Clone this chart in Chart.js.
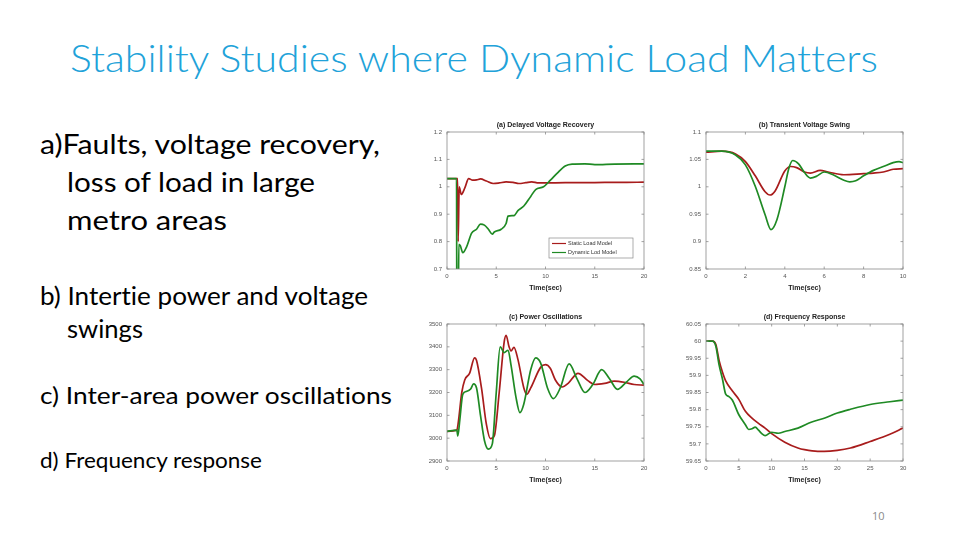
<!DOCTYPE html>
<html>
<head>
<meta charset="utf-8">
<script src="https://cdn.jsdelivr.net/npm/chart.js@4/dist/chart.umd.min.js"></script>
<style>
  html, body { margin: 0; padding: 0; background: #fff; }
  body { width: 960px; height: 540px; position: relative; overflow: hidden; font-family: Lato, "Open Sans", sans-serif; font-variant-ligatures: none; font-feature-settings: "liga" 0, "dlig" 0; }
  .txt { position: absolute; white-space: nowrap; color: #000; transform-origin: left top; line-height: 1; }
  .title { color: #21a2d9; font-weight: 300; font-size: 38px; }
  .box { position: absolute; }
  .pg { position: absolute; left: 872px; top: 508px; font-size: 11px; color: #8a8a8a; font-family: "Open Sans", sans-serif; }
</style>
</head>
<body>
<div class="txt title" style="left:70px; top:38px;" data-w="808">Stability Studies where Dynamic Load Matters</div>

<div class="txt" style="left:40px; top:131px; font-size:26px;" data-w="340">a)Faults, voltage recovery,</div>
<div class="txt" style="left:67px; top:169px; font-size:26px;" data-w="248">loss of load in large</div>
<div class="txt" style="left:67px; top:207px; font-size:26px;" data-w="160">metro areas</div>

<div class="txt" style="left:40px; top:283px; font-size:25px;" data-w="328">b) Intertie power and voltage</div>
<div class="txt" style="left:67px; top:316px; font-size:25px;" data-w="76">swings</div>

<div class="txt" style="left:40px; top:383px; font-size:24px;" data-w="352">c) Inter-area power oscillations</div>

<div class="txt" style="left:40px; top:449px; font-size:21px;" data-w="222">d) Frequency response</div>

<div class="pg">10</div>

<div class="box" style="left:412px; top:118px; width:245px; height:175px;"><canvas id="chartA"></canvas></div>
<div class="box" style="left:671px; top:118px; width:245px; height:175px;"><canvas id="chartB"></canvas></div>
<div class="box" style="left:412px; top:310px; width:245px; height:175px;"><canvas id="chartC"></canvas></div>
<div class="box" style="left:671px; top:310px; width:245px; height:175px;"><canvas id="chartD"></canvas></div>

<script>
// (a) Delayed Voltage Recovery
const timeA_static = [0, 1.08, 1.13, 1.24, 1.45, 1.8, 2.2, 2.6, 3.0, 3.4, 4.0, 4.7, 5.3, 6.0, 6.7, 7.3, 8.0, 8.6, 9.3, 10, 12, 14, 16, 18, 20];
const voltA_static = [1.03, 1.03, 0.8, 1.0, 0.972, 0.995, 1.03, 1.024, 1.025, 1.029, 1.021, 1.012, 1.014, 1.018, 1.016, 1.012, 1.015, 1.018, 1.014, 1.014, 1.015, 1.015, 1.016, 1.016, 1.017];
const timeA_dynamic = [0, 0.97, 1.0, 1.14, 1.2, 1.35, 1.6, 2.0, 2.5, 3.0, 3.4, 3.8, 4.2, 4.6, 4.8, 5.5, 6.0, 6.2, 6.8, 7.2, 7.8, 8.5, 9.0, 9.8, 10.5, 11.2, 12.0, 12.7, 14, 15, 17, 20];
const voltA_dynamic = [1.03, 1.03, 0.5, 0.5, 0.79, 0.785, 0.76, 0.782, 0.831, 0.845, 0.864, 0.86, 0.845, 0.827, 0.835, 0.845, 0.866, 0.893, 0.895, 0.913, 0.93, 0.965, 0.99, 1.0, 1.024, 1.05, 1.076, 1.083, 1.084, 1.081, 1.083, 1.084];
const ticksA_x = [0, 5, 10, 15, 20];
const ticksA_y = [0.7, 0.8, 0.9, 1, 1.1, 1.2];

// (b) Transient Voltage Swing
const timeB_static = [0, 0.8, 1.5, 2.0, 2.5, 3.0, 3.25, 3.5, 4.0, 4.3, 4.6, 5.0, 5.3, 5.8, 6.2, 7.0, 8.0, 8.5, 9.0, 9.5, 10];
const voltB_static = [1.063, 1.065, 1.06, 1.046, 1.02, 0.991, 0.985, 0.992, 1.029, 1.037, 1.035, 1.027, 1.025, 1.03, 1.027, 1.022, 1.024, 1.025, 1.027, 1.032, 1.033];
const timeB_dynamic = [0, 0.8, 1.5, 2.0, 2.5, 3.0, 3.3, 3.6, 4.0, 4.2, 4.4, 4.7, 5.0, 5.3, 5.6, 6.0, 6.5, 7.0, 7.3, 7.6, 8.0, 8.5, 9.0, 9.5, 9.8, 10];
const voltB_dynamic = [1.065, 1.065, 1.058, 1.04, 1.001, 0.949, 0.922, 0.94, 1.0, 1.033, 1.048, 1.042, 1.026, 1.016, 1.019, 1.027, 1.021, 1.012, 1.009, 1.011, 1.02, 1.03, 1.037, 1.044, 1.046, 1.044];
const ticksB_x = [0, 2, 4, 6, 8, 10];
const ticksB_y = [0.85, 0.9, 0.95, 1, 1.05, 1.1];

// (c) Power Oscillations
const timeC_static = [0, 1.0, 1.15, 1.5, 1.8, 2.3, 2.8, 3.0, 3.5, 4.0, 4.4, 4.8, 5.3, 5.8, 6.0, 6.3, 6.5, 6.8, 7.2, 7.8, 8.1, 8.5, 9.5, 10, 10.5, 11, 11.7, 12.3, 13.3, 14.3, 15, 16, 17, 18, 19, 20];
const powerC_static = [3030, 3035, 3070, 3200, 3255, 3285, 3352, 3340, 3220, 3060, 2998, 3010, 3200, 3420, 3450, 3400, 3382, 3398, 3345, 3220, 3192, 3220, 3310, 3322, 3305, 3255, 3224, 3240, 3284, 3252, 3235, 3240, 3250, 3245, 3235, 3232];
const timeC_dynamic = [0, 1.0, 1.1, 1.3, 1.6, 2.0, 2.4, 2.7, 3.0, 3.4, 3.8, 4.2, 4.6, 5.0, 5.4, 5.8, 6.2, 6.5, 7.0, 7.4, 7.8, 8.5, 9.0, 9.5, 10.2, 10.8, 11.5, 12.4, 13.2, 14.0, 14.8, 15.7, 16.5, 17.3, 18.2, 19.0, 19.6, 20];
const powerC_dynamic = [3030, 3035, 3010, 3080, 3192, 3205, 3215, 3238, 3220, 3100, 2990, 2952, 2975, 3200, 3400, 3375, 3385, 3320, 3180, 3112, 3150, 3300, 3352, 3330, 3220, 3173, 3220, 3325, 3260, 3200, 3235, 3300, 3260, 3214, 3245, 3272, 3260, 3235];
const ticksC_x = [0, 5, 10, 15, 20];
const ticksC_y = [2900, 3000, 3100, 3200, 3300, 3400, 3500];

// (d) Frequency Response
const timeD_static = [0, 1.0, 1.5, 2.0, 2.5, 3.0, 4.0, 5.0, 6.0, 7.0, 8.0, 9.0, 10, 12, 14, 15, 17, 18, 20, 22, 25, 28, 30];
const freqD_static = [60.0, 60.0, 59.99, 59.943, 59.91, 59.884, 59.855, 59.83, 59.795, 59.775, 59.76, 59.746, 59.73, 59.705, 59.688, 59.683, 59.678, 59.678, 59.681, 59.688, 59.707, 59.728, 59.746];
const timeD_dynamic = [0, 1.0, 1.5, 2.0, 2.5, 3.0, 3.5, 4.0, 5.0, 6.0, 6.5, 7.0, 7.5, 8.0, 8.5, 9.0, 10, 11, 12, 14, 16, 18, 20, 22, 25, 28, 30];
const freqD_dynamic = [60.0, 60.0, 59.985, 59.93, 59.89, 59.845, 59.838, 59.828, 59.785, 59.756, 59.742, 59.744, 59.749, 59.74, 59.73, 59.724, 59.734, 59.731, 59.736, 59.746, 59.763, 59.775, 59.79, 59.801, 59.815, 59.823, 59.828];
const ticksD_x = [0, 5, 10, 15, 20, 25, 30];
const ticksD_y = [59.65, 59.7, 59.75, 59.8, 59.85, 59.9, 59.95, 60, 60.05];

const seriesNames = ['Static Load Model', 'Dynamic Lod Model'];
const RED = '#a81c1c';
const GREEN = '#1f8a24';

// stretch the slide text to the widths in the picture
document.querySelectorAll('.txt[data-w]').forEach(el => {
    el.style.display = 'inline-block';
    const w = el.getBoundingClientRect().width;
    el.style.transform = 'scaleX(' + (el.dataset.w / w) + ')';
});

const toPoints = (xs, ys) => xs.map((x, i) => ({ x: x, y: ys[i] }));

// MATLAB-like box with inward ticks
const framePlugin = {
    id: 'frame',
    afterDraw(chart) {
        const { ctx, chartArea: a, scales } = chart;
        ctx.save();
        ctx.strokeStyle = '#8a8a8a';
        ctx.lineWidth = 0.8;
        ctx.strokeRect(a.left, a.top, a.right - a.left, a.bottom - a.top);
        ctx.beginPath();
        scales.x.ticks.forEach(t => {
            const px = scales.x.getPixelForValue(t.value);
            ctx.moveTo(px, a.bottom); ctx.lineTo(px, a.bottom - 2.5);
            ctx.moveTo(px, a.top); ctx.lineTo(px, a.top + 2.5);
        });
        scales.y.ticks.forEach(t => {
            const py = scales.y.getPixelForValue(t.value);
            ctx.moveTo(a.left, py); ctx.lineTo(a.left + 2.5, py);
            ctx.moveTo(a.right, py); ctx.lineTo(a.right - 2.5, py);
        });
        ctx.stroke();
        ctx.restore();
    }
};

// legend box inside the plot, lower right
const boxLegendPlugin = {
    id: 'boxLegend',
    afterDraw(chart, args, opts) {
        if (!opts.show) return;
        const { ctx, chartArea: a } = chart;
        const w = 84, h = 20;
        const x0 = a.right - 11 - w, y0 = a.bottom - 11 - h;
        ctx.save();
        ctx.fillStyle = '#fff';
        ctx.fillRect(x0, y0, w, h);
        ctx.strokeStyle = '#8a8a8a';
        ctx.lineWidth = 0.7;
        ctx.strokeRect(x0, y0, w, h);
        ctx.font = '5.5px "Liberation Sans", Arial, sans-serif';
        ctx.textBaseline = 'middle';
        chart.data.datasets.forEach((ds, i) => {
            const y = y0 + 5.5 + i * 9;
            ctx.strokeStyle = ds.borderColor;
            ctx.lineWidth = 1.2;
            ctx.beginPath();
            ctx.moveTo(x0 + 3, y); ctx.lineTo(x0 + 17, y);
            ctx.stroke();
            ctx.fillStyle = '#333';
            ctx.fillText(ds.label, x0 + 19, y);
        });
        ctx.restore();
    }
};

const makeChart = (id, title, redPts, greenPts, xTicks, yTicks, showLegend) => {
    const fixTicks = arr => scale => { scale.ticks = arr.map(v => ({ value: v })); };
    return new Chart(document.getElementById(id), {
        type: 'line',
        data: {
            datasets: [
                { label: seriesNames[0], data: redPts, borderColor: RED, order: 2 },
                { label: seriesNames[1], data: greenPts, borderColor: GREEN, order: 1 }
            ]
        },
        options: {
            responsive: true,
            maintainAspectRatio: false,
            animation: false,
            elements: {
                point: { radius: 0 },
                line: { borderWidth: 1.7, cubicInterpolationMode: 'monotone', fill: false }
            },
            layout: { padding: { left: 0, right: 13, top: 0, bottom: 0 } },
            plugins: {
                legend: { display: false },
                tooltip: { enabled: false },
                title: {
                    display: true,
                    text: title,
                    fullSize: false,
                    color: '#222',
                    font: { family: '"Liberation Sans", Arial, sans-serif', size: 7, weight: 'bold', lineHeight: 1.2 },
                    padding: { top: 3, bottom: 2.6 }
                },
                boxLegend: { show: showLegend }
            },
            scales: {
                x: {
                    type: 'linear',
                    min: xTicks[0],
                    max: xTicks[xTicks.length - 1],
                    afterBuildTicks: fixTicks(xTicks),
                    afterFit: s => { s.height = 24; },
                    grid: { display: false, drawTicks: false },
                    border: { display: false },
                    ticks: { color: '#555', padding: 4, font: { family: '"Liberation Sans", Arial, sans-serif', size: 6 } },
                    title: {
                        display: true,
                        text: 'Time(sec)',
                        color: '#222',
                        padding: { top: 0, bottom: 1 },
                        font: { family: '"Liberation Sans", Arial, sans-serif', size: 7, weight: 'bold' }
                    }
                },
                y: {
                    min: yTicks[0],
                    max: yTicks[yTicks.length - 1],
                    afterBuildTicks: fixTicks(yTicks),
                    afterFit: s => { s.width = 35; },
                    grid: { display: false, drawTicks: false },
                    border: { display: false },
                    ticks: {
                        color: '#555',
                        padding: 5,
                        font: { family: '"Liberation Sans", Arial, sans-serif', size: 6 },
                        callback: v => String(+v.toFixed(2))
                    }
                }
            }
        },
        plugins: [framePlugin, boxLegendPlugin]
    });
};

makeChart('chartA', '(a) Delayed Voltage Recovery',
    toPoints(timeA_static, voltA_static), toPoints(timeA_dynamic, voltA_dynamic), ticksA_x, ticksA_y, true);
makeChart('chartB', '(b) Transient Voltage Swing',
    toPoints(timeB_static, voltB_static), toPoints(timeB_dynamic, voltB_dynamic), ticksB_x, ticksB_y, false);
makeChart('chartC', '(c) Power Oscillations',
    toPoints(timeC_static, powerC_static), toPoints(timeC_dynamic, powerC_dynamic), ticksC_x, ticksC_y, false);
makeChart('chartD', '(d) Frequency Response',
    toPoints(timeD_static, freqD_static), toPoints(timeD_dynamic, freqD_dynamic), ticksD_x, ticksD_y, false);
</script>
</body>
</html>
